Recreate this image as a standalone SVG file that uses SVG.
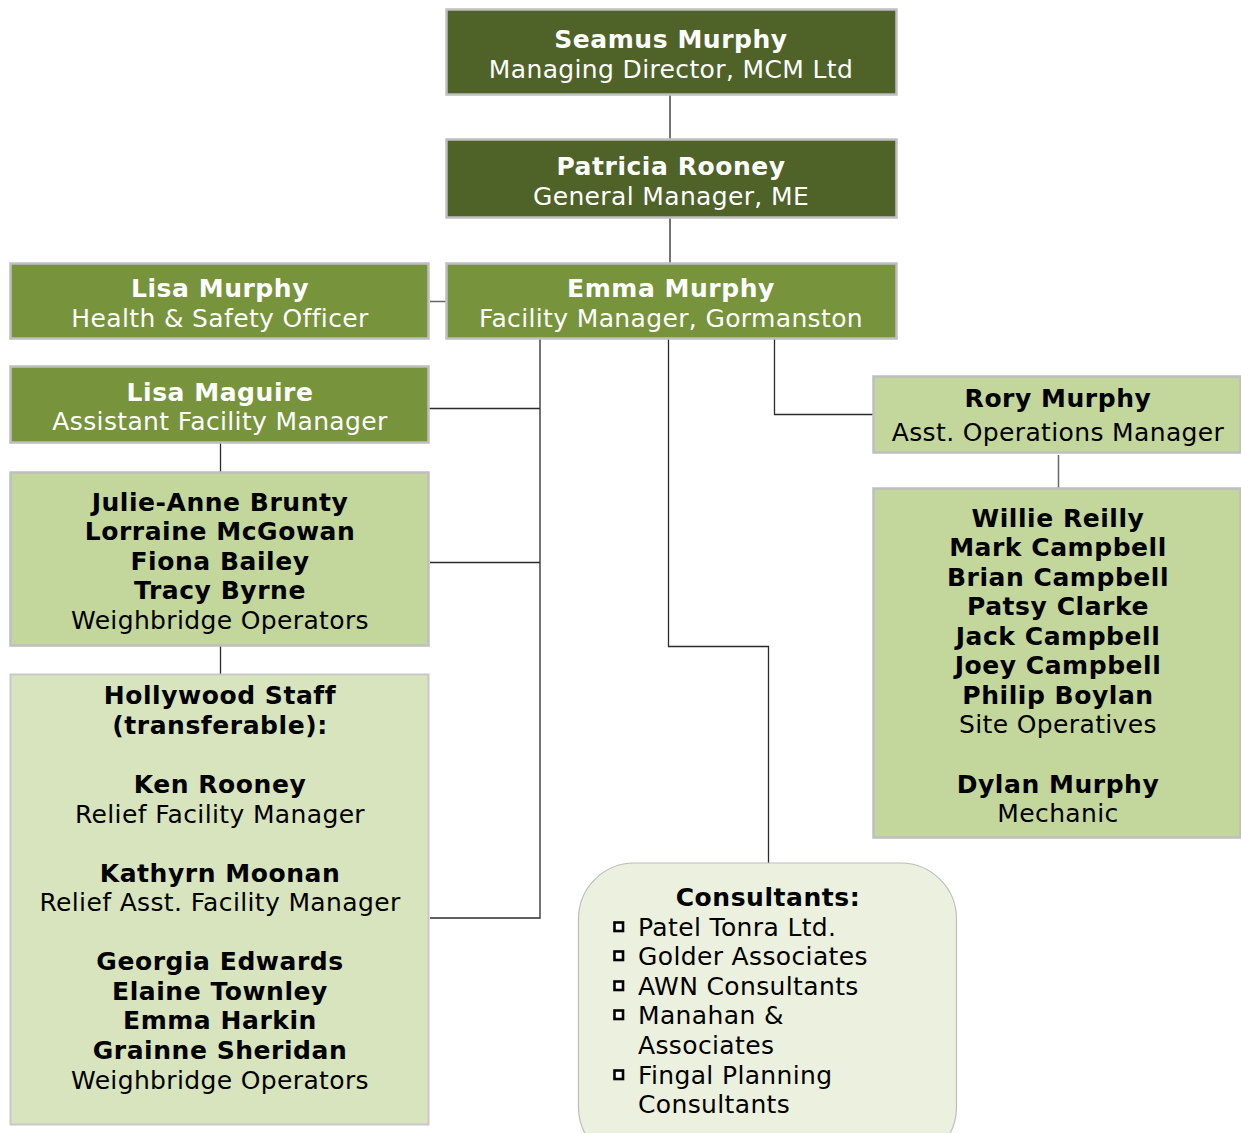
<svg xmlns="http://www.w3.org/2000/svg" width="1241" height="1133" viewBox="0 0 1241 1133">
<style>
text{font-family:"DejaVu Sans","Verdana",sans-serif;font-size:25px;letter-spacing:0.36px;text-anchor:middle}
.b{font-weight:bold;letter-spacing:0.55px}
.w{fill:#ffffff}
.k{fill:#000000}
.l{text-anchor:start}
.dark{fill:#4f6228;stroke:#bfbfbf;stroke-width:2.5}
.mid{fill:#77933c;stroke:#bfbfbf;stroke-width:2.5}
.lt{fill:#c3d69b;stroke:#bfbfbf;stroke-width:2.5}
.lt2{fill:#d7e4bd;stroke:#c8c8c8;stroke-width:2}
.cons{fill:#ebf1de;stroke:#bdbdbd;stroke-width:1.2}
.c{fill:none;stroke:#2b2b2b;stroke-width:1.3}
.cg{fill:none;stroke:#666666;stroke-width:1.5}
.bul{fill:#ffffff;stroke:#000000;stroke-width:2.6}
</style>
<g id="connectors">
<line class="c" x1="670" y1="95" x2="670" y2="139"/>
<line class="c" x1="670" y1="218" x2="670" y2="263"/>
<line class="cg" x1="430" y1="301.5" x2="446" y2="301.5"/>
<polyline class="c" points="540,339 540,918 430,918"/>
<line class="c" x1="429" y1="408.5" x2="540" y2="408.5"/>
<line class="c" x1="430" y1="562.5" x2="540" y2="562.5"/>
<polyline class="c" points="668.5,339 668.5,646.5 768.5,646.5 768.5,863"/>
<polyline class="c" points="774.5,339 774.5,414.5 873,414.5"/>
<line class="cg" x1="1058.5" y1="455" x2="1058.5" y2="488"/>
<line class="c" x1="220.5" y1="443" x2="220.5" y2="472"/>
<line class="c" x1="220.5" y1="646" x2="220.5" y2="674"/>
</g>
<g id="seamus">
<rect class="dark" x="446.5" y="9.5" width="450" height="85"/>
<text class="b w" x="671" y="48">Seamus Murphy</text>
<text class="w" x="671" y="78">Managing Director, MCM Ltd</text>
</g>
<g id="patricia">
<rect class="dark" x="446.5" y="139.5" width="450" height="78"/>
<text class="b w" x="671" y="175">Patricia Rooney</text>
<text class="w" x="671" y="205">General Manager, ME</text>
</g>
<g id="emma">
<rect class="mid" x="446.5" y="263.5" width="450" height="75"/>
<text class="b w" x="671" y="297">Emma Murphy</text>
<text class="w" x="671" y="327">Facility Manager, Gormanston</text>
</g>
<g id="lisa-murphy">
<rect class="mid" x="10.5" y="263.5" width="418" height="75"/>
<text class="b w" x="220" y="297">Lisa Murphy</text>
<text class="w" x="220" y="327">Health &amp; Safety Officer</text>
</g>
<g id="lisa-maguire">
<rect class="mid" x="10.5" y="366.5" width="418" height="76"/>
<text class="b w" x="220" y="401">Lisa Maguire</text>
<text class="w" x="220" y="430">Assistant Facility Manager</text>
</g>
<g id="weighbridge">
<rect class="lt" x="10.5" y="472.5" width="418" height="173"/>
<text class="b k" x="220" y="511">Julie-Anne Brunty</text>
<text class="b k" x="220" y="540">Lorraine McGowan</text>
<text class="b k" x="220" y="570">Fiona Bailey</text>
<text class="b k" x="220" y="599">Tracy Byrne</text>
<text class="k" x="220" y="629">Weighbridge Operators</text>
</g>
<g id="hollywood">
<rect class="lt2" x="10.5" y="674.5" width="418" height="450"/>
<text class="b k" x="220" y="704">Hollywood Staff</text>
<text class="b k" x="220" y="734">(transferable):</text>
<text class="b k" x="220" y="793">Ken Rooney</text>
<text class="k" x="220" y="823">Relief Facility Manager</text>
<text class="b k" x="220" y="882">Kathyrn Moonan</text>
<text class="k" x="220" y="911">Relief Asst. Facility Manager</text>
<text class="b k" x="220" y="970">Georgia Edwards</text>
<text class="b k" x="220" y="1000">Elaine Townley</text>
<text class="b k" x="220" y="1029">Emma Harkin</text>
<text class="b k" x="220" y="1059">Grainne Sheridan</text>
<text class="k" x="220" y="1089">Weighbridge Operators</text>
</g>
<g id="rory">
<rect class="lt" x="873.5" y="376.5" width="367" height="76"/>
<text class="b k" x="1058" y="407">Rory Murphy</text>
<text class="k" x="1058" y="441">Asst. Operations Manager</text>
</g>
<g id="site-operatives">
<rect class="lt" x="873.5" y="488.5" width="367" height="349"/>
<text class="b k" x="1058" y="527">Willie Reilly</text>
<text class="b k" x="1058" y="556">Mark Campbell</text>
<text class="b k" x="1058" y="586">Brian Campbell</text>
<text class="b k" x="1058" y="615">Patsy Clarke</text>
<text class="b k" x="1058" y="645">Jack Campbell</text>
<text class="b k" x="1058" y="674">Joey Campbell</text>
<text class="b k" x="1058" y="704">Philip Boylan</text>
<text class="k" x="1058" y="733">Site Operatives</text>
<text class="b k" x="1058" y="793">Dylan Murphy</text>
<text class="k" x="1058" y="822">Mechanic</text>
</g>
<g id="consultants">
<rect class="cons" x="578.5" y="863" width="378" height="300" rx="56" ry="56"/>
<text class="b k" x="768" y="906">Consultants:</text>
<rect class="bul" x="614.5" y="922.5" width="8.5" height="8.5"/>
<text class="k l" x="638" y="936">Patel Tonra Ltd.</text>
<rect class="bul" x="614.5" y="951.5" width="8.5" height="8.5"/>
<text class="k l" x="638" y="965">Golder Associates</text>
<rect class="bul" x="614.5" y="981.5" width="8.5" height="8.5"/>
<text class="k l" x="638" y="995">AWN Consultants</text>
<rect class="bul" x="614.5" y="1010.5" width="8.5" height="8.5"/>
<text class="k l" x="638" y="1024">Manahan &amp;</text>
<text class="k l" x="638" y="1054">Associates</text>
<rect class="bul" x="614.5" y="1070.5" width="8.5" height="8.5"/>
<text class="k l" x="638" y="1084">Fingal Planning</text>
<text class="k l" x="638" y="1113">Consultants</text>
</g>
</svg>
